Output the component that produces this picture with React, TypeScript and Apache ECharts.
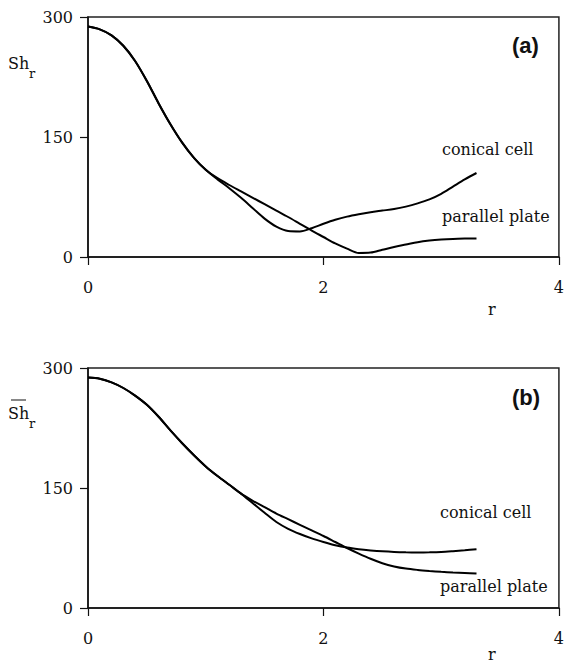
import React, { useEffect, useRef } from "react";
import * as echarts from "echarts";

// Radial positions r (shared by every curve)
const rValues = [
  0, 0.1, 0.2, 0.3, 0.4, 0.5, 0.6, 0.7, 0.8, 0.9, 1.0, 1.1, 1.2, 1.3, 1.4, 1.5, 1.6,
  1.7, 1.8, 1.9, 2.0, 2.1, 2.2, 2.3, 2.4, 2.5, 2.6, 2.7, 2.8, 2.9, 3.0, 3.1, 3.2, 3.3,
];

// (a) local Sherwood number Sh_r
const localConical = [
  288, 284.5, 277, 264, 245, 220, 192, 166, 143, 124, 109, 97, 86, 74, 61, 48, 38,
  32.5, 32, 36, 41.5, 46.5, 50.5, 53.5, 56, 58, 60, 63, 67, 72, 79, 88, 97, 105,
];
const localParallel = [
  288, 284.5, 277, 264, 245, 220, 192, 166, 143, 124, 109, 98.5, 90, 82, 74, 66, 58,
  50, 41.5, 33, 25, 17, 10.5, 5, 5.5, 9, 12.5, 15.5, 18.5, 20.5, 21.8, 22.6, 23, 23.2,
];

// (b) averaged Sherwood number
const meanConical = [
  288, 286.5, 282, 275, 265.5, 254, 239, 222, 206, 191, 177, 165, 154, 143, 131, 119, 107.5,
  99, 92.5, 87, 82.5, 78.5, 75.5, 73.5, 72, 70.8, 70, 69.6, 69.5, 69.6, 70, 71, 72.2, 73.5,
];
const meanParallel = [
  288, 286.5, 282, 275, 265.5, 254, 239, 222, 206, 191, 177, 165, 154, 143, 134, 126, 118,
  111, 104, 97, 90, 82.5, 75, 68, 61.5, 56, 52, 49.3, 47.6, 46.3, 45.2, 44.3, 43.6, 43,
];

const xTicks = { min: 0, max: 4, interval: 2 };
const yTicks = { min: 0, max: 300, interval: 150 };

const SERIF = "DejaVu Serif";
const SANS = "Liberation Sans";
const FS = 16;

const pair = (ys: number[]) => ys.map((y, i) => [rValues[i], y]);

export default function App() {
  const ref = useRef<HTMLDivElement>(null);

  useEffect(() => {
    if (!ref.current) return;
    const chart = echarts.init(ref.current, null, { renderer: "svg" });

    const gridBase = {
      left: 88,
      width: 475,
      height: 240,
      show: true,
      borderColor: "#222",
      borderWidth: 1.5,
      backgroundColor: "transparent",
    };

    const axisLine = { show: true, lineStyle: { color: "#111", width: 1.5 } };
    const tickStyle = { color: "#111", width: 1.2 };

    const makeX = (gridIndex: number) => ({
      type: "value",
      gridIndex,
      ...xTicks,
      axisLine,
      axisTick: { show: true, inside: false, length: 8, lineStyle: tickStyle },
      splitLine: { show: false },
      axisLabel: { color: "#111", fontFamily: SERIF, fontSize: FS, margin: 22 },
    });
    const makeY = (gridIndex: number) => ({
      type: "value",
      gridIndex,
      ...yTicks,
      axisLine,
      axisTick: { show: true, inside: false, length: 8, lineStyle: tickStyle },
      splitLine: { show: false },
      axisLabel: { color: "#111", fontFamily: SERIF, fontSize: FS, margin: 15 },
    });

    const lineSeries = (name: string, idx: number, ys: number[]) => ({
      name,
      type: "line",
      xAxisIndex: idx,
      yAxisIndex: idx,
      data: pair(ys),
      showSymbol: false,
      smooth: 0.3,
      lineStyle: { color: "#000", width: 2 },
    });

    const txt = (
      text: string,
      x: number,
      y: number,
      size = FS,
      family = SERIF,
      weight = "normal"
    ) => ({
      type: "text",
      x,
      y,
      style: {
        text,
        fill: "#111",
        fontFamily: family,
        fontSize: size,
        fontWeight: weight,
        verticalAlign: "middle",
      },
    });

    chart.setOption({
      animation: false,
      backgroundColor: "#fff",
      grid: [
        { ...gridBase, top: 17 },
        { ...gridBase, top: 368 },
      ],
      xAxis: [makeX(0), makeX(1)],
      yAxis: [makeY(0), makeY(1)],
      series: [
        lineSeries("conical cell (a)", 0, localConical),
        lineSeries("parallel plate (a)", 0, localParallel),
        lineSeries("conical cell (b)", 1, meanConical),
        lineSeries("parallel plate (b)", 1, meanParallel),
      ],
      graphic: [
        // panel (a)
        txt("Sh", 8, 63),
        txt("r", 29, 73.5, 13),
        txt("(a)", 512, 45, 22, SANS, "bold"),
        txt("conical cell", 442, 149.5),
        txt("parallel plate", 442, 216.5),
        txt("r", 488, 309.5),
        // panel (b)
        txt("Sh", 8, 413),
        txt("r", 29, 423.5, 13),
        { type: "line", shape: { x1: 11, y1: 400, x2: 26, y2: 400 }, style: { stroke: "#111", lineWidth: 1 } },
        txt("(b)", 512, 397, 22, SANS, "bold"),
        txt("conical cell", 440, 512.5),
        txt("parallel plate", 440, 586.5),
        txt("r", 488, 654),
      ],
    });

    return () => chart.dispose();
  }, []);

  return (
    <div
      ref={ref}
      style={{ position: "fixed", left: 0, top: 0, width: 567, height: 663, background: "#fff" }}
    />
  );
}
